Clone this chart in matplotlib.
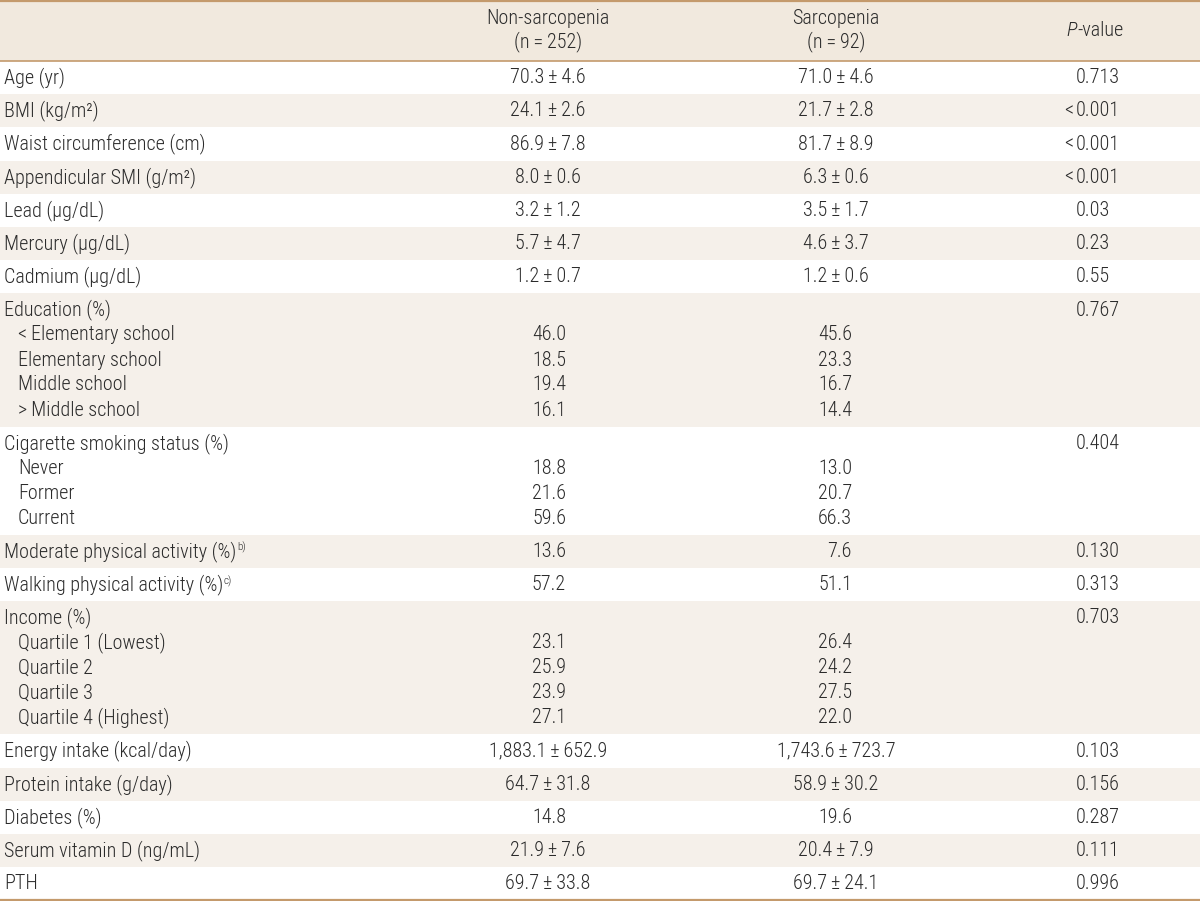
import matplotlib
matplotlib.use('Agg')
import matplotlib.pyplot as plt
from matplotlib.patches import Rectangle

plt.rcParams['font.family'] = ['Roboto Condensed', 'Roboto', 'DejaVu Sans']
plt.rcParams['font.weight'] = 'light'

TS = '\u2009'  # thin space, used around ± and =

### table content
col_headers = ['Non-sarcopenia\n(n' + TS + '=' + TS + '252)', 'Sarcopenia\n(n' + TS + '=' + TS + '92)']

row_labels = ['Age (yr)', 'BMI (kg/m²)', 'Waist circumference (cm)', 'Appendicular SMI (g/m²)',
              'Lead (µg/dL)', 'Mercury (µg/dL)', 'Cadmium (µg/dL)', 'Education (%)',
              'Cigarette smoking status (%)', 'Moderate physical activity (%)',
              'Walking physical activity (%)', 'Income (%)', 'Energy intake (kcal/day)',
              'Protein intake (g/day)', 'Diabetes (%)', 'Serum vitamin D (ng/mL)', 'PTH']
non_vals = ['70.3±4.6', '24.1±2.6', '86.9±7.8', '8.0±0.6', '3.2±1.2', '5.7±4.7', '1.2±0.7',
            '', '', '13.6', '57.2', '', '1,883.1±652.9', '64.7±31.8', '14.8', '21.9±7.6', '69.7±33.8']
sarc_vals = ['71.0±4.6', '21.7±2.8', '81.7±8.9', '6.3±0.6', '3.5±1.7', '4.6±3.7', '1.2±0.6',
             '', '', '7.6', '51.1', '', '1,743.6±723.7', '58.9±30.2', '19.6', '20.4±7.9', '69.7±24.1']
p_vals = ['0.713', '<0.001', '<0.001', '<0.001', '0.03', '0.23', '0.55', '0.767', '0.404',
          '0.130', '0.313', '0.703', '0.103', '0.156', '0.287', '0.111', '0.996']
footnotes = {'Moderate physical activity (%)': 'b)', 'Walking physical activity (%)': 'c)'}

edu_labels = ['<Elementary school', 'Elementary school', 'Middle school', '>Middle school']
edu_non = ['46.0', '18.5', '19.4', '16.1']
edu_sarc = ['45.6', '23.3', '16.7', '14.4']

smoke_labels = ['Never', 'Former', 'Current']
smoke_non = ['18.8', '21.6', '59.6']
smoke_sarc = ['13.0', '20.7', '66.3']

income_labels = ['Quartile 1 (Lowest)', 'Quartile 2', 'Quartile 3', 'Quartile 4 (Highest)']
income_non = ['23.1', '25.9', '23.9', '27.1']
income_sarc = ['26.4', '24.2', '27.5', '22.0']

subrows = {'Education (%)': (edu_labels, edu_non, edu_sarc),
           'Cigarette smoking status (%)': (smoke_labels, smoke_non, smoke_sarc),
           'Income (%)': (income_labels, income_non, income_sarc)}

### layout / style
W, H = 1200, 901
header_h = 61
row_h = 33.2
line_step = 25
x_label, x_sub = 4, 18
x_non, x_sarc = 548, 836
x_non_r, x_sarc_r = 566, 852
x_p = 1076
fs = 14.5
txt_col = '#2b2b2b'
line_col = '#c49a6c'
head_bg = '#f1e9de'
shade_bg = '#f5f0ea'

fig = plt.figure(figsize=(12, 9.01), dpi=100)
ax = fig.add_axes([0, 0, 1, 1])
ax.set_xlim(0, W)
ax.set_ylim(H, 0)
ax.axis('off')

# header
ax.add_patch(Rectangle((0, 0), W, header_h, color=head_bg, lw=0))
ax.text(x_non, header_h / 2, col_headers[0], ha='center', va='center', fontsize=fs,
        color=txt_col, linespacing=1.2)
ax.text(x_sarc, header_h / 2, col_headers[1], ha='center', va='center', fontsize=fs,
        color=txt_col, linespacing=1.2)
ax.text(1077, header_h / 2, 'P', style='italic', ha='right', va='center', fontsize=fs, color=txt_col)
ax.text(1077, header_h / 2, '-value', ha='left', va='center', fontsize=fs, color=txt_col)


def put_num(x_c, x_r, y, s):
    if s == '':
        return
    if '±' in s:
        ax.text(x_c, y, s.replace('±', TS + '±' + TS), ha='center', va='center',
                fontsize=fs, color=txt_col)
    else:
        ax.text(x_r, y, s, ha='right', va='center', fontsize=fs, color=txt_col)


def sym_space(s):
    # small gap after a leading < or > sign, as in the journal typesetting
    if s[:1] in '<>':
        return s[0] + TS + s[1:]
    return s


y = header_h
for i, lab in enumerate(row_labels):
    subs = subrows.get(lab)
    n_lines = 1 + (len(subs[0]) if subs else 0)
    h = row_h + (n_lines - 1) * line_step
    if i % 2 == 1:
        ax.add_patch(Rectangle((0, y), W, h, color=shade_bg, lw=0))
    yc = y + row_h / 2
    t = ax.text(x_label, yc, lab, ha='left', va='center', fontsize=fs, color=txt_col)
    if lab in footnotes:
        ax.annotate(footnotes[lab], xy=(1, 0.95), xycoords=t, xytext=(0.5, 0),
                    textcoords='offset points', ha='left', va='top', fontsize=8, color=txt_col)
    put_num(x_non, x_non_r, yc, non_vals[i])
    put_num(x_sarc, x_sarc_r, yc, sarc_vals[i])
    p = p_vals[i]
    if p.startswith('<'):
        ax.text(x_p - 3, yc, '<', ha='right', va='center', fontsize=fs, color=txt_col)
        p = p[1:]
    ax.text(x_p, yc, p, ha='left', va='center', fontsize=fs, color=txt_col)
    if subs:
        for k, (sl, sn, ss) in enumerate(zip(*subs)):
            ys = yc + (k + 1) * line_step
            ax.text(x_sub, ys, sym_space(sl), ha='left', va='center', fontsize=fs, color=txt_col)
            ax.text(x_non_r, ys, sn, ha='right', va='center', fontsize=fs, color=txt_col)
            ax.text(x_sarc_r, ys, ss, ha='right', va='center', fontsize=fs, color=txt_col)
    y += h

# rules
ax.plot([0, W], [1, 1], color=line_col, lw=1.6)
ax.plot([0, W], [header_h, header_h], color=line_col, lw=1.2)
ax.plot([0, W], [y, y], color=line_col, lw=1.6)

fig.savefig('out.png', dpi=100)
